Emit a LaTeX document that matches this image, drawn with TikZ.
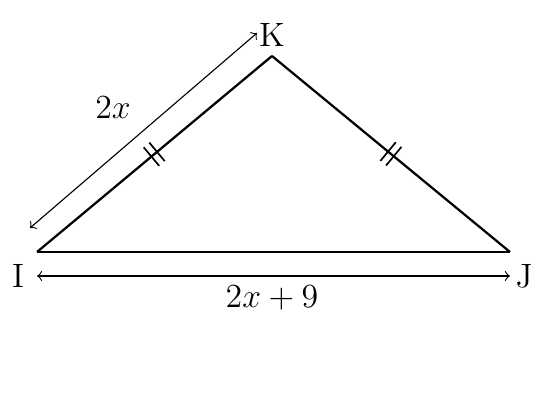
\documentclass[tikz,border=0pt]{standalone}
\usetikzlibrary{decorations.markings, positioning}
\tikzstyle{side} = [line width=0.8pt, line join=miter]
\tikzstyle{equal} = [postaction={decorate}, decoration={markings, mark=at position 0.5 with {\draw[line width=0.6pt] (-1.3pt,-4.3pt)--(-1.3pt,4.3pt); \draw[line width=0.6pt] (1.3pt,-4.3pt)--(1.3pt,4.3pt);}}]
\tikzstyle{measure} = [line width=0.4pt, <->, >=to]
\tikzstyle{vertex} = [inner sep=0pt, font=\large]

\begin{document}
\begin{tikzpicture}[x=0.0125cm, y=-0.0125cm]
	\useasboundingbox (0,0) rectangle (544,419);

	% Vertices - - - - - - - - - - - - - - - - - - - - - - - - - - - - - - - -
	\coordinate (I) at (37,252);
	\coordinate (J) at (510,252);
	\coordinate (K) at (272,56);

	\node(lI) [vertex] at (18,276) {I};
	\node(lJ) [vertex] at (524,276) {J};
	\node(lK) [vertex] at (272,35) {K};

	% Measure ends - - - - - - - - - - - - - - - - - - - - - - - - - - - - - -
	\coordinate (mIK1) at (30,228);
	\coordinate (mIK2) at (257,33);
	\coordinate (mIJ1) at (37,276);
	\coordinate (mIJ2) at (510,276);

	\node(lIK) [vertex] at (113,108) {$2x$};
	\node(lIJ) [vertex] at (272,298) {$2x+9$};

	% Sides - - - - - - - - - - - - - - - - - - - - - - - - - - - - - - - - - -
	\draw[side](J)--(I);
	\draw[side, equal](I)--(K);
	\draw[side, equal](K)--(J);

	% Arrows - - - - - - - - - - - - - - - - - - - - - - - - - - - - - - - - -
	\draw[measure](mIK1)--(mIK2);
	\draw[measure](mIJ1)--(mIJ2);

\end{tikzpicture}
\end{document}
